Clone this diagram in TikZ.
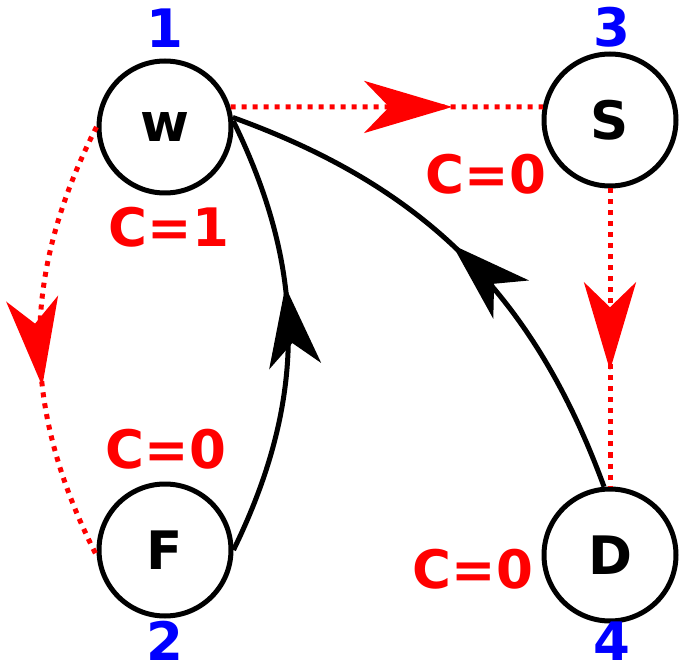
\documentclass[tikz,border=0pt]{standalone}
\usepackage{fontspec}
\setmainfont{DejaVu Sans}
\usetikzlibrary{arrows.meta,decorations.markings}

\definecolor{visitred}{HTML}{FF0000}
\definecolor{orderblue}{HTML}{0000FF}

\begin{document}
\begin{tikzpicture}[
  x=1pt,
  y=-1pt,
  line join=round,
  vertex/.style={draw,circle,line width=5pt,minimum size=132pt,inner sep=0pt,
    font=\fontsize{53}{60}\selectfont\bfseries},
  order/.style={text=orderblue,inner sep=0pt,font=\fontsize{53}{60}\selectfont\bfseries},
  cost/.style={text=visitred,inner sep=0pt,font=\fontsize{53}{60}\selectfont\bfseries},
  treeedge/.style={draw=visitred,line width=5pt,dash pattern=on 5pt off 6pt},
  backedge/.style={draw=black,line width=5pt},
  redhead/.style={postaction={decorate},decoration={markings,
    mark=at position #1 with {\arrow[visitred]{Stealth[length=88pt,width=52pt,inset=25pt]}}}},
  blackhead/.style={postaction={decorate},decoration={markings,
    mark=at position #1 with {\arrow[black]{Stealth[length=80pt,width=52pt,inset=23pt]}}}}
]
  % Keep the artwork frame of the original image.
  \useasboundingbox (0,0) rectangle (689,671);

  % Four vertices of the graph.
  \node[vertex] (w) at (165,127) {w};
  \node[vertex] (S) at (610,120) {S};
  \node[vertex] (F) at (165,550) {F};
  \node[vertex] (D) at (610,555) {D};

  % Visit order in blue.
  \node[order] (n1) at (165,28) {1};
  \node[order] (n2) at (165,641) {2};
  \node[order] (n3) at (612,27) {3};
  \node[order] (n4) at (612,641) {4};

  % Counters in red.
  \node[cost] (cw) at (169,227) {C=1};
  \node[cost] (cs) at (486,174) {C=0};
  \node[cost] (cf) at (166,449) {C=0};
  \node[cost] (cd) at (473,569) {C=0};

  % Dotted red tree edges with the head in the middle.
  \draw[treeedge,redhead=0.71] (w.17) -- (S.169);
  \draw[treeedge,redhead=0.61] (S.south) -- (D.north);
  \draw[treeedge,redhead=0.6] (w.west) to[bend right=27] (F.185);

  % Solid black back edges.
  \draw[backedge,blackhead=0.61] (F.east) to[bend right=26] (w.5);
  \draw[backedge,blackhead=0.53] (D.95) to[bend right=25] (w.8);
\end{tikzpicture}
\end{document}
